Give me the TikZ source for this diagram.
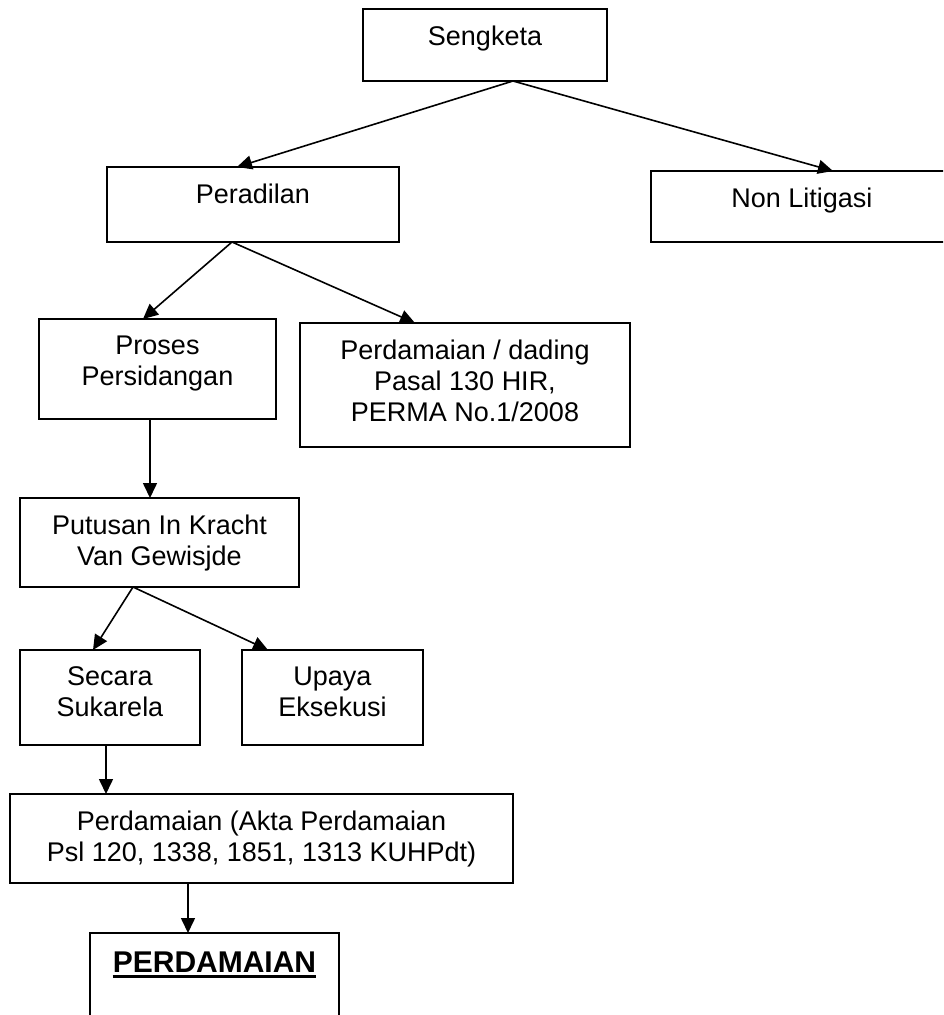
\documentclass[tikz,border=0pt]{standalone}
\usepackage{fontspec}
\setmainfont{Liberation Sans}
\usetikzlibrary{arrows.meta}

\tikzset{
  kotak/.style={draw, line width=1.8pt, inner sep=0pt, outer sep=0pt, anchor=north west},
  tulisan/.style={anchor=north, inner sep=0pt, align=center, font=\fontsize{27}{31}\selectfont},
  panah/.style={line width=1.6pt, -{Triangle[length=15pt,width=14pt]}}
}

\begin{document}
\begin{tikzpicture}[x=1pt,y=-1pt]
\clip (0,0) rectangle (943,1015);

\node[kotak, minimum width=244pt, minimum height=72pt] (sengketa) at (363,9) {};
\node[kotak, minimum width=292pt, minimum height=75pt] (peradilan) at (107,167) {};
\node[kotak, minimum width=302pt, minimum height=71pt] (nonlit) at (651,171) {};
\node[kotak, minimum width=237pt, minimum height=100pt] (proses) at (39,319) {};
\node[kotak, minimum width=330pt, minimum height=124pt] (dading) at (300,323) {};
\node[kotak, minimum width=279pt, minimum height=89pt] (putusan) at (20,498) {};
\node[kotak, minimum width=180pt, minimum height=95pt] (sukarela) at (20,650) {};
\node[kotak, minimum width=181pt, minimum height=95pt] (eksekusi) at (242,650) {};
\node[kotak, minimum width=503pt, minimum height=89pt] (akta) at (10,794) {};
\node[kotak, minimum width=249pt, minimum height=120pt] (hasil) at (90,933) {};

\node[tulisan] (t-sengketa) at ([yshift=-16.5pt]sengketa.north) {Sengketa};
\node[tulisan] (t-peradilan) at ([yshift=-16.5pt]peradilan.north) {Peradilan};
\node[tulisan] (t-nonlit) at ([yshift=-16.5pt]nonlit.north) {Non Litigasi};
\node[tulisan] (t-proses) at ([yshift=-16.5pt]proses.north) {Proses\\Persidangan};
\node[tulisan] (t-dading) at ([yshift=-16.5pt]dading.north) {Perdamaian / dading\\Pasal 130 HIR,\\PERMA No.1/2008};
\node[tulisan] (t-putusan) at ([yshift=-16.5pt]putusan.north) {Putusan In Kracht\\Van Gewisjde};
\node[tulisan] (t-sukarela) at ([yshift=-16.5pt]sukarela.north) {Secara\\Sukarela};
\node[tulisan] (t-eksekusi) at ([yshift=-16.5pt]eksekusi.north) {Upaya\\Eksekusi};
\node[tulisan] (t-akta) at ([yshift=-16.5pt]akta.north) {Perdamaian (Akta Perdamaian\\Psl 120, 1338, 1851, 1313 KUHPdt)};
\node[tulisan, font=\bfseries\fontsize{30}{34}\selectfont] (t-hasil) at ([yshift=-18.5pt]hasil.north) {PERDAMAIAN};
\draw[line width=2.5pt] ([yshift=-4pt]t-hasil.south west) -- ([yshift=-4pt]t-hasil.south east);

\draw[panah] ([xshift=28pt]sengketa.south) -- ([xshift=-16pt]peradilan.north);
\draw[panah] ([xshift=28pt]sengketa.south) -- ([xshift=31pt]nonlit.north);
\draw[panah] ([xshift=-21pt]peradilan.south) -- ([xshift=-14.5pt]proses.north);
\draw[panah] ([xshift=-21pt]peradilan.south) -- ([xshift=-50pt]dading.north);
\draw[panah] ([xshift=-7.5pt]proses.south) -- ([xshift=-9.5pt]putusan.north);
\draw[panah] ([xshift=-26.5pt]putusan.south) -- ([xshift=-17pt]sukarela.north);
\draw[panah] ([xshift=-26.5pt]putusan.south) -- ([xshift=-64.5pt]eksekusi.north);
\draw[panah] ([xshift=-4pt]sukarela.south) -- ([xshift=-155.5pt]akta.north);
\draw[panah] ([xshift=-73.5pt]akta.south) -- ([xshift=-26.5pt]hasil.north);
\end{tikzpicture}
\end{document}
